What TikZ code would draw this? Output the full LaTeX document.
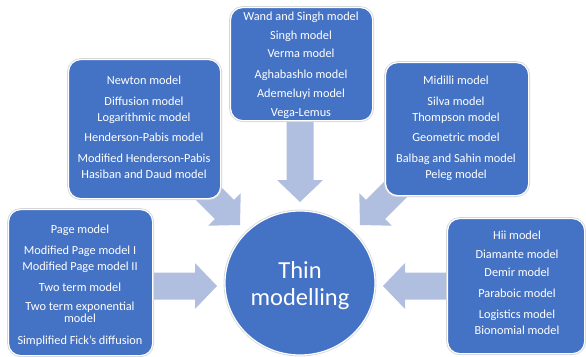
\documentclass[tikz,border=0pt]{standalone}
\usepackage{fontspec}
\setmainfont{Carlito}
\definecolor{boxblue}{RGB}{68,114,196}
\definecolor{arrowfill}{RGB}{176,190,223}
% block arrow: tip coordinate, direction angle, total length
\newcommand\blockarrow[3]{%
  \begin{scope}[shift={(#1)}, rotate=#2]
    \fill[arrowfill] (0,0) -- (-22,-23) -- (-22,-13.5) -- (-#3,-13.5)
      -- (-#3,13.5) -- (-22,13.5) -- (-22,23) -- cycle;
  \end{scope}}
\begin{document}
\begin{tikzpicture}[x=1pt,y=-1pt,
  box/.style={rounded corners=12pt, fill=boxblue, draw=white, line width=1.2pt,
    preaction={draw=black!16, line width=2.8pt}, anchor=north west, inner sep=0pt},
  hubshape/.style={circle, fill=boxblue, draw=white, line width=1.2pt,
    preaction={draw=black!16, line width=2.8pt}, inner sep=0pt},
  item/.style={text=white, font=\fontsize{12.3}{13}\selectfont, inner sep=0pt,
    text height=8.5pt, text depth=2.5pt},
  hubtext/.style={text=white, font=\fontsize{24.5}{28}\selectfont, inner sep=0pt, anchor=base}]
\path[use as bounding box] (0,0) rectangle (586,356);

% arrow tips pointing at the hub
\coordinate (tipL) at (217,286);
\coordinate (tipR) at (383,286);
\coordinate (tipT) at (300,202);
\coordinate (tipTL) at (240,225);
\coordinate (tipTR) at (360,225);

\blockarrow{tipL}{0}{68}
\blockarrow{tipR}{180}{68}
\blockarrow{tipT}{-90}{84}
\blockarrow{tipTL}{-45}{58}
\blockarrow{tipTR}{-135}{58}

% model groups
\node[box, minimum width=144pt, minimum height=146pt] (page) at (8,209) {};
\node[box, minimum width=152pt, minimum height=139pt] (newton) at (68,59) {};
\node[box, minimum width=142pt, minimum height=113pt] (wand) at (230,7) {};
\node[box, minimum width=143pt, minimum height=133pt] (midilli) at (385,62) {};
\node[box, minimum width=137pt, minimum height=135pt] (hii) at (447,218) {};

% central topic
\node[hubshape, minimum size=150pt, yscale=0.96] (hub) at (300,283) {};
\node[hubtext] (hubA) at (300,278) {Thin};
\node[hubtext] (hubB) at (300,305) {modelling};

% left group
\node[item] (p1) at (80,230) {Page model};
\node[item] (p2) at (80,251) {Modified Page model I};
\node[item] (p3) at (80,267) {Modified Page model II};
\node[item] (p4) at (80,288) {Two term model};
\node[item] (p5) at (80,307) {Two term exponential};
\node[item] (p6) at (80,319) {model};
\node[item] (p7) at (80,341) {Simplified Fick's diffusion};

% upper left group
\node[item] (n1) at (144,81) {Newton model};
\node[item] (n2) at (144,102) {Diffusion model};
\node[item] (n3) at (144,118) {Logarithmic model};
\node[item] (n4) at (144,138) {Henderson-Pabis model};
\node[item] (n5) at (144,159) {Modified Henderson-Pabis};
\node[item] (n6) at (144,175) {Hasiban and Daud model};

% top group
\node[item] (w1) at (301,17) {Wand and Singh model};
\node[item] (w2) at (301,36) {Singh model};
\node[item] (w3) at (301,54) {Verma model};
\node[item] (w4) at (301,75) {Aghabashlo model};
\node[item] (w5) at (301,94) {Ademeluyi model};
\node[item] (w6) at (301,113) {Vega-Lemus};

% upper right group
\node[item] (m1) at (456,81) {Midilli model};
\node[item] (m2) at (456,102) {Silva model};
\node[item] (m3) at (456,118) {Thompson model};
\node[item] (m4) at (456,138) {Geometric model};
\node[item] (m5) at (456,159) {Balbag and Sahin model};
\node[item] (m6) at (456,175) {Peleg model};

% right group
\node[item] (h1) at (517,236) {Hii model};
\node[item] (h2) at (517,255) {Diamante model};
\node[item] (h3) at (517,273) {Demir model};
\node[item] (h4) at (517,294) {Paraboic model};
\node[item] (h5) at (517,315) {Logistics model};
\node[item] (h6) at (517,331) {Bionomial model};
\end{tikzpicture}
\end{document}
